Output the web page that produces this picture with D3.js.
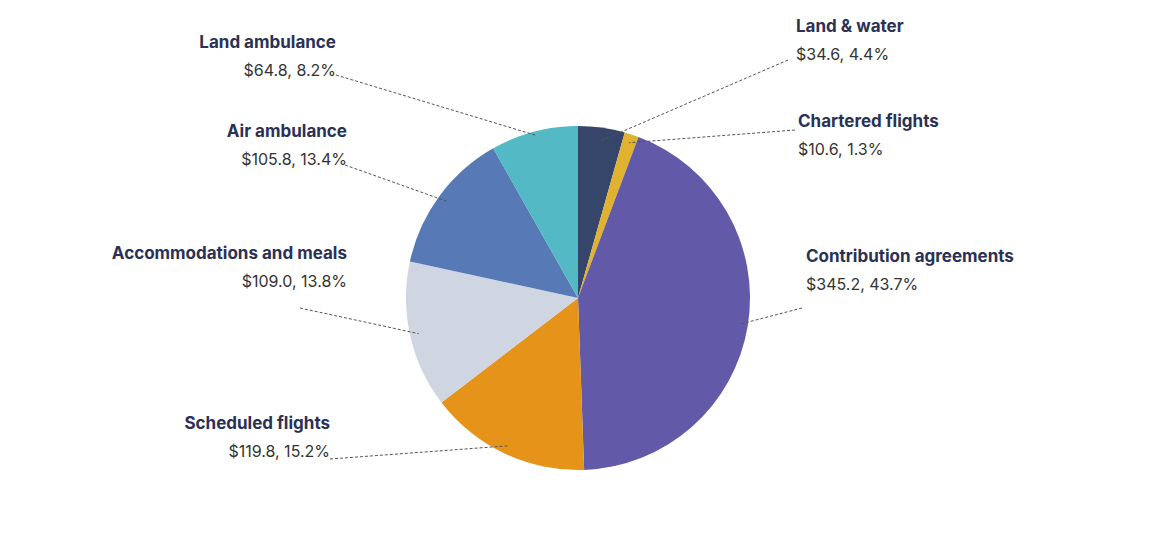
<!DOCTYPE html>
<html><head><meta charset="utf-8">
<script src="https://cdn.jsdelivr.net/npm/d3@7"></script>
<style>body{margin:0;background:#fff}svg{display:block}</style>
</head><body>
<script>
// data, clockwise from 12 o'clock
const categories = ["Land & water", "Chartered flights", "Contribution agreements", "Scheduled flights",
  "Accommodations and meals", "Air ambulance", "Land ambulance"];
const amounts = [34.6, 10.6, 345.2, 119.8, 109.0, 105.8, 64.8];
const shares = ["4.4%", "1.3%", "43.7%", "15.2%", "13.8%", "13.4%", "8.2%"];
const colors = ["#36466b", "#e1b22f", "#6259a8", "#e69419", "#cfd5e1", "#5779b6", "#53b9c4"];

// label layout: text anchor x, name baseline y, side, leader line end
const labelPos = [
  {x: 796, y: 32, a: "start", lx: 788, ly: 60, f: 0.92},
  {x: 798, y: 127, a: "start", lx: 795, ly: 130, f: 0.95},
  {x: 806, y: 262, a: "start", lx: 802, ly: 308, f: 0.95},
  {x: 330, y: 429, a: "end", lx: 330, ly: 459, f: 0.95},
  {x: 347, y: 259, a: "end", lx: 300, ly: 308, f: 0.95},
  {x: 347, y: 137, a: "end", lx: 345, ly: 165, f: 0.95},
  {x: 336, y: 48, a: "end", lx: 336, ly: 75, f: 0.98}
];

const width = 1170, height = 536;
const cx = 578, cy = 298, r = 172;
const svg = d3.select("body").append("svg").attr("width", width).attr("height", height);

const pie = d3.pie().sort(null).value(d => d)(amounts);
const arc = d3.arc().innerRadius(0).outerRadius(r);
const g = svg.append("g").attr("transform", `translate(${cx},${cy})`);

g.selectAll("path").data(pie).join("path")
  .attr("d", arc).attr("fill", (d, i) => colors[i]);

// leader lines
pie.forEach((d, i) => {
  const p = labelPos[i];
  const mid = (d.startAngle + d.endAngle) / 2;
  const ax = cx + Math.sin(mid) * r * p.f, ay = cy - Math.cos(mid) * r * p.f;
  svg.append("line").attr("x1", p.lx).attr("y1", p.ly).attr("x2", ax).attr("y2", ay)
    .attr("stroke", "#555").attr("stroke-width", 1).attr("stroke-dasharray", "3,2");
});

categories.forEach((c, i) => {
  const p = labelPos[i];
  svg.append("text").attr("x", p.x).attr("y", p.y).attr("text-anchor", p.a)
    .attr("font-family", "Inter, 'Open Sans', sans-serif").attr("font-weight", 700)
    .attr("font-size", 17).attr("fill", "#2a3154").text(c);
  svg.append("text").attr("x", p.x).attr("y", p.y + 28).attr("text-anchor", p.a)
    .attr("font-family", "Inter, 'Open Sans', sans-serif")
    .attr("font-size", 16).attr("fill", "#333").text(`$${amounts[i].toFixed(1)}, ${shares[i]}`);
});
</script>
</body></html>
